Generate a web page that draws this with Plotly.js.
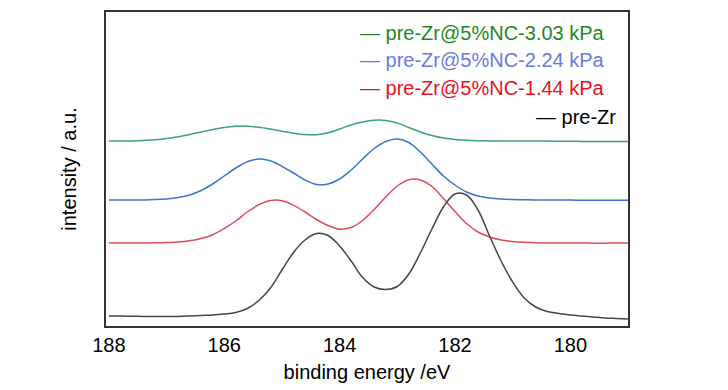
<!DOCTYPE html>
<html>
<head>
<meta charset="utf-8">
<script src="https://cdn.plot.ly/plotly-3.0.1.min.js"></script>
<style>html,body{margin:0;padding:0;background:#fff;}#chart{width:728px;height:390px;}</style>
</head>
<body>
<div id="chart"></div>
<script>
// Series names
const seriesNames = ["pre-Zr@5%NC-3.03 kPa", "pre-Zr@5%NC-2.24 kPa", "pre-Zr@5%NC-1.44 kPa", "pre-Zr"];

// Binding energy (eV), shared sampling grid
const energy = [188.0, 187.8, 187.6, 187.4, 187.2, 187.0, 186.8, 186.6, 186.4, 186.2,
                186.0, 185.8, 185.6, 185.4, 185.2, 185.0, 184.8, 184.6, 184.4, 184.2,
                184.0, 183.8, 183.6, 183.4, 183.2, 183.0, 182.8, 182.6, 182.4, 182.2,
                182.0, 181.8, 181.6, 181.4, 181.2, 181.0, 180.8, 180.6, 180.4, 180.2,
                180.0, 179.8, 179.6, 179.4, 179.2, 179.0];

// Intensity (a.u., stacked offsets included)
const intensity303 = [185, 185, 185.1, 185.5, 186.2, 187.4, 189.2, 191.5, 194, 196.5,
                      198.5, 199.7, 199.8, 198.7, 196.9, 194.8, 192.8, 191.4, 191.3, 193.2,
                      197, 201, 204, 205.8, 205.6, 203, 198.5, 194, 190.5, 188,
                      186.5, 185.7, 185.3, 185.1, 185, 185, 185, 185, 184.9, 184.8,
                      184.7, 184.6, 184.5, 184.5, 184.5, 184.5];

const intensity224 = [126, 126, 126, 126.1, 126.4, 127.1, 128.5, 131, 135.5, 142,
                      150, 158, 164.3, 167, 165.3, 159.7, 153, 146, 141.5, 142,
                      147, 156, 167, 177.5, 184.5, 187, 183.5, 174, 162, 150,
                      141, 134, 130, 128, 127, 126.5, 126.2, 126, 126, 126,
                      125.9, 125.8, 125.8, 125.7, 125.7, 125.7];

const intensity144 = [83, 83, 83, 83, 83.2, 83.5, 84, 85.2, 87.5, 91.3,
                      97.5, 105, 114, 121.3, 125.5, 125.3, 120.8, 114, 106.5, 100.5,
                      96.8, 98.5, 105.5, 116.5, 129, 140, 146.3, 146, 139.5, 127.5,
                      114.5, 102.5, 94, 89, 86, 84.5, 83.7, 83.3, 83, 83,
                      83, 83, 82.8, 82.8, 83, 83];

const intensityPreZr = [10, 10, 9.8, 9.5, 9.5, 9.5, 9.6, 10, 10.5, 11,
                        12, 13.5, 17.5, 25.5, 38, 56, 73.5, 86, 92.5, 90.5,
                        80, 65, 48.5, 39, 36.5, 39.5, 52, 73, 97, 119,
                        132, 131, 116, 90, 65, 44, 28, 19, 14.5, 12.5,
                        11, 10, 9, 8, 7.5, 7];

// Axis ticks
const xTickVals = [188, 186, 184, 182, 180];
const xTickText = ["188", "186", "184", "182", "180"];

const lineColors = ["#3aa56e", "#3d74cc", "#e04c58", "#454545"];
const textColors = ["#1c8a22", "#6b79e2", "#e8101c", "#000000"];

const FONT = "'Liberation Sans', Arial, sans-serif";

const ys = [intensity303, intensity224, intensity144, intensityPreZr];

const traces = ys.map((y, i) => ({
  x: energy, y: y, type: "scatter", mode: "lines",
  name: seriesNames[i],
  line: {color: lineColors[i], width: 1.5, shape: "spline", smoothing: 1},
  showlegend: false, hoverinfo: "skip"
}));

// legend drawn as annotations (right-aligned like the original)
const legX = [0.9598, 0.9598, 0.9598, 0.981];
const legY = [0.933, 0.847, 0.758, 0.666];
const annotations = seriesNames.map((n, i) => ({
  xref: "paper", yref: "paper", x: legX[i], y: legY[i],
  xanchor: "right", yanchor: "middle", showarrow: false,
  text: "\u2014 " + n,
  font: {family: FONT, size: 20, color: textColors[i]}
}));

const layout = {
  width: 728, height: 390,
  margin: {l: 106, r: 100, t: 12, b: 64, pad: 0},
  paper_bgcolor: "#ffffff", plot_bgcolor: "#ffffff",
  showlegend: false,
  font: {family: FONT, color: "#000"},
  xaxis: {
    range: [188.05, 179.0], autorange: false,
    tickmode: "array", tickvals: xTickVals, ticktext: xTickText,
    ticks: "", showgrid: false, zeroline: false,
    showline: true, mirror: true, linecolor: "#333333", linewidth: 1.6,
    tickfont: {family: FONT, size: 20, color: "#000"},
    title: {text: "binding energy /eV", font: {family: FONT, size: 20, color: "#000"}, standoff: 10},
    automargin: false
  },
  yaxis: {
    range: [0, 314], autorange: false,
    showticklabels: false, ticks: "", showgrid: false, zeroline: false,
    showline: true, mirror: true, linecolor: "#333333", linewidth: 1.6,
    title: {text: "intensity / a.u.", font: {family: FONT, size: 20, color: "#000"}, standoff: 22},
    automargin: false
  },
  annotations: annotations
};

Plotly.newPlot("chart", traces, layout, {staticPlot: true, displayModeBar: false});
</script>
</body>
</html>
